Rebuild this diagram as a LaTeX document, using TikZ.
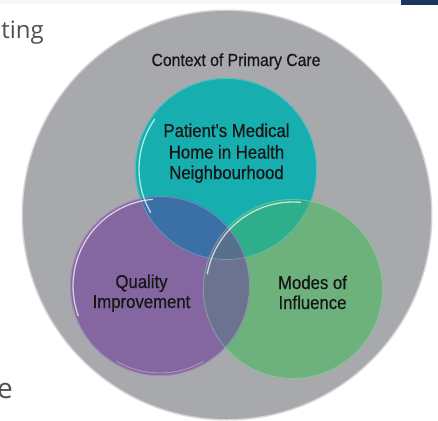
\documentclass[tikz,border=0pt]{standalone}
\usepackage{fontspec}
\usetikzlibrary{calc}
\setmainfont{Liberation Sans}
\newfontfamily\labfont[FakeStretch=0.9,FakeBold=0.5]{Liberation Sans}
\newfontfamily\pagefont{Open Sans}
\definecolor{bggray}{HTML}{A8A9AC}
\definecolor{cteal}{HTML}{16AEAE}
\definecolor{cpurple}{HTML}{8467A1}
\definecolor{cgreen}{HTML}{6DB17D}
\definecolor{ctp}{HTML}{3B70A6}
\definecolor{ctg}{HTML}{2EAE8A}
\definecolor{cpg}{HTML}{6B7391}
\definecolor{ctpg}{HTML}{56708E}
\definecolor{navy}{HTML}{1C355E}
\definecolor{pagetext}{HTML}{505050}
\definecolor{labtext}{HTML}{161616}
\tikzset{
  lab/.style={font=\labfont\fontsize{18.6}{21}\selectfont, text=labtext, align=center, inner sep=0pt},
  shine/.style={white, opacity=0.7, line width=1.3pt, line cap=round},
  rim/.style={white, opacity=0.25, line width=0.8pt}
}
\begin{document}
\begin{tikzpicture}[x=1pt,y=-1pt]
\useasboundingbox (0,0) rectangle (438,420);
\fill[white] (0,0) rectangle (438,420);
\fill[black!3] (0,0) rectangle (401,4.5);
\fill[navy] (401,0) rectangle (438,5);
% page text fragments
\node[font=\pagefont\fontsize{24}{28}\selectfont, text=pagetext, anchor=base east, inner sep=0pt] (ting) at (44,38) {ting};
\node[font=\pagefont\fontsize{28}{32}\selectfont, text=pagetext, anchor=base east, inner sep=0pt] (ee) at (13,398) {e};
% circle centres
\coordinate (cG) at (227,215);
\coordinate (cT) at (226,169);
\coordinate (cP) at (160,286);
\coordinate (cR) at (293,289);
% big gray circle
\fill[bggray!80!white, opacity=0.6] (cG) circle (205.5);
\node[circle, fill=bggray, minimum size=408pt, inner sep=0pt] (ctx) at (cG) {};
% three circles
\node[circle, fill=cteal, minimum size=182pt, inner sep=0pt] (teal) at (cT) {};
\node[circle, fill=cpurple, minimum size=180pt, inner sep=0pt] (purple) at (cP) {};
\node[circle, fill=cgreen, minimum size=180pt, inner sep=0pt] (green) at (cR) {};
% intersections
\begin{scope}
  \clip (cT) circle (91);
  \fill[ctp] (cP) circle (90);
  \fill[ctg] (cR) circle (90);
\end{scope}
\begin{scope}
  \clip (cP) circle (90);
  \clip (cR) circle (90);
  \fill[cpg] (cT) circle (300);
  \clip (cT) circle (91);
  \fill[ctpg] (cT) circle (91);
\end{scope}
% rims and highlights
\draw[rim] (cT) circle (90.5);
\draw[rim] (cP) circle (89.5);
\draw[rim] (cR) circle (89.5);
\draw[shine] ($(cT)+(150:87)$) arc (150:215:87);
\draw[shine] ($(cP)+(160:87)$) arc (160:265:87);
\draw[shine] ($(cR)+(190:87)$) arc (190:275:87);
\draw[white, opacity=0.35, line width=0.8pt] ($(cP)+(60:87)$) arc (60:120:87);
% labels
\node[font=\labfont\fontsize{17.5}{20}\selectfont, text=labtext, inner sep=0pt, anchor=base] (ctxlab) at (236,66) {Context of Primary Care};
\node[lab, anchor=base] (pmh1) at (226.5,137) {Patient's Medical};
\node[lab, anchor=base] (pmh2) at (226.5,158.5) {Home in Health};
\node[lab, anchor=base] (pmh3) at (226.5,179) {Neighbourhood};
\node[lab, anchor=base] (qi1) at (141.5,288) {Quality};
\node[lab, anchor=base] (qi2) at (141.5,308) {Improvement};
\node[lab, anchor=base] (mi1) at (312.5,289) {Modes of};
\node[lab, anchor=base] (mi2) at (312.5,309) {Influence};
\end{tikzpicture}
\end{document}
